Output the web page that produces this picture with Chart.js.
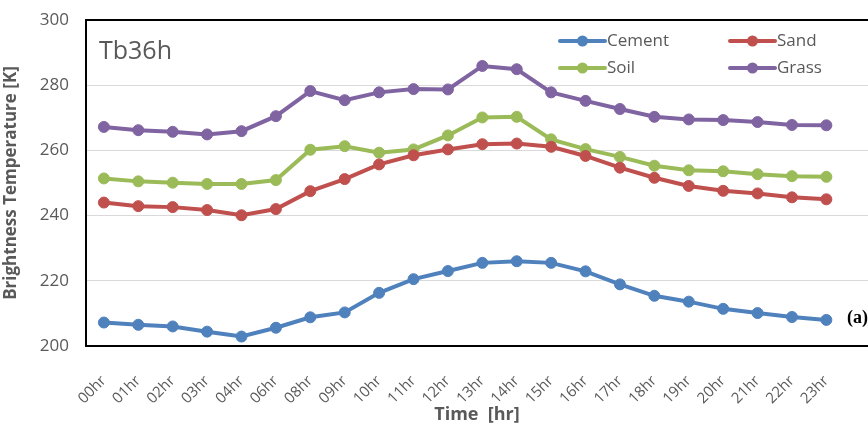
<!DOCTYPE html>
<html>
<head>
<meta charset="utf-8">
<script src="https://cdn.jsdelivr.net/npm/chart.js@4"></script>
<style>
  html, body { margin: 0; padding: 0; background: #fff; }
  #wrap { width: 868px; height: 428px; }
</style>
</head>
<body>
<div id="wrap"><canvas id="tbChart" width="868" height="428"></canvas></div>
<script>
// data
const hours = ['00hr','01hr','02hr','03hr','04hr','06hr','08hr','09hr','10hr','11hr','12hr',
               '13hr','14hr','15hr','16hr','17hr','18hr','19hr','20hr','21hr','22hr','23hr'];
const cement = [207.2,206.5,206.0,204.4,202.9,205.6,208.8,210.3,216.3,220.5,223.0,
                225.5,226.0,225.5,222.9,218.9,215.4,213.6,211.4,210.1,208.9,208.0];
const sand   = [244.0,242.9,242.6,241.7,240.1,242.0,247.5,251.2,255.7,258.5,260.3,
                261.9,262.1,261.1,258.3,254.7,251.6,249.1,247.6,246.8,245.6,245.0];
const soil   = [251.4,250.5,250.1,249.7,249.7,250.9,260.2,261.3,259.3,260.3,264.6,
                270.1,270.3,263.4,260.4,258.0,255.3,253.9,253.6,252.7,252.1,251.9];
const grass  = [267.2,266.2,265.7,264.9,265.9,270.5,278.2,275.4,277.8,278.8,278.7,
                285.9,284.9,277.8,275.2,272.7,270.3,269.5,269.3,268.7,267.8,267.7];
const yTicks = [200, 220, 240, 260, 280, 300];

const gray = '#595959';
const font = "'Open Sans', sans-serif";

function series(label, values, color) {
    return {
        label: label,
        data: values.map((v, i) => ({ x: i, y: v })),
        borderColor: color,
        backgroundColor: color,
        borderWidth: 4,
        pointRadius: 5.5,
        pointHoverRadius: 5.5,
        pointBorderWidth: 1,
        tension: 0
    };
}

// legend in two columns, like the original
const legendPlugin = {
    id: 'twoColLegend',
    afterDraw(chart) {
        const c = chart.ctx;
        const cols = [560, 730];
        const rows = [41, 68];
        c.save();
        c.font = '17px ' + font;
        c.textBaseline = 'middle';
        chart.data.datasets.forEach((ds, i) => {
            const x = cols[i % 2], y = rows[Math.floor(i / 2)];
            c.strokeStyle = ds.borderColor;
            c.lineWidth = 4;
            c.lineCap = 'round';
            c.beginPath(); c.moveTo(x, y); c.lineTo(x + 45, y); c.stroke();
            c.fillStyle = ds.borderColor;
            c.beginPath(); c.arc(x + 22.5, y, 5.5, 0, Math.PI * 2); c.fill();
            c.fillStyle = gray;
            c.fillText(ds.label, x + 47, y);
        });
        c.restore();
    }
};

// "Tb36h" and "(a)" labels
const notesPlugin = {
    id: 'notes',
    afterDraw(chart) {
        const c = chart.ctx;
        c.save();
        c.fillStyle = gray;
        c.font = '25px ' + font;
        c.textBaseline = 'alphabetic';
        c.fillText('Tb36h', 99, 59);
        c.fillStyle = '#000';
        c.font = "bold 18px 'Liberation Serif', serif";
        c.textAlign = 'right';
        c.textBaseline = 'middle';
        c.fillText('(a)', chart.width, 318);
        c.restore();
    }
};

new Chart(document.getElementById('tbChart'), {
    type: 'line',
    data: {
        datasets: [
            series('Cement', cement, '#4F81BD'),
            series('Sand', sand, '#C0504D'),
            series('Soil', soil, '#9BBB59'),
            series('Grass', grass, '#8064A2')
        ]
    },
    options: {
        responsive: false,
        animation: false,
        layout: { autoPadding: false, padding: { top: 20, right: 0, left: 0, bottom: 0 } },
        plugins: { legend: { display: false }, tooltip: { enabled: false } },
        scales: {
            x: {
                type: 'linear',
                min: -0.52,
                max: 22.21,
                afterBuildTicks: s => { s.ticks = hours.map((h, i) => ({ value: i })); },
                afterFit: s => { s.height = 82; s.paddingLeft = 0; s.paddingRight = 0; },
                grid: { display: false },
                border: { display: true, color: '#000', width: 2 },
                ticks: {
                    autoSkip: false,
                    minRotation: 45,
                    maxRotation: 45,
                    padding: 18,
                    color: gray,
                    font: { family: font, size: 15 },
                    callback: v => hours[v]
                },
                title: {
                    display: true,
                    text: 'Time  [hr]',
                    color: gray,
                    font: { family: font, size: 18, weight: 'bold' },
                    padding: { top: 0, bottom: 2 }
                }
            },
            y: {
                min: 200,
                max: 300,
                afterBuildTicks: s => { s.ticks = yTicks.map(v => ({ value: v })); },
                afterFit: s => { s.width = 86; s.paddingTop = 0; s.paddingBottom = 0; },
                grid: {
                    drawTicks: false,
                    color: ctx => ctx.tick && ctx.tick.value === 300 ? '#000' : '#d9d9d9',
                    lineWidth: ctx => ctx.tick && ctx.tick.value === 300 ? 2 : 1
                },
                border: { display: true, color: '#000', width: 2 },
                ticks: {
                    padding: 17,
                    color: gray,
                    font: { family: font, size: 17 }
                },
                title: {
                    display: true,
                    text: 'Brightness Temperature [K]',
                    color: gray,
                    font: { family: font, size: 17, weight: 'bold' },
                    padding: { top: 1, bottom: 0 }
                }
            }
        }
    },
    plugins: [legendPlugin, notesPlugin]
});
</script>
</body>
</html>
